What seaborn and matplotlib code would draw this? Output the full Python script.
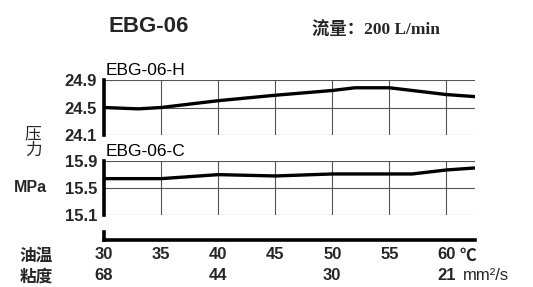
import matplotlib
matplotlib.use("Agg")
import matplotlib.pyplot as plt
import matplotlib.transforms as mtransforms
import seaborn as sns
import pandas as pd

temps_h = [30, 33, 35, 40, 45, 50, 52, 55, 60, 62.5]
press_h = [24.50, 24.48, 24.50, 24.60, 24.68, 24.75, 24.79, 24.79, 24.69, 24.66]
temps_c = [30, 33, 35, 40, 45, 50, 55, 57, 60, 62.5]
press_c = [15.64, 15.64, 15.64, 15.70, 15.68, 15.71, 15.71, 15.71, 15.77, 15.80]
yticks_h = [24.1, 24.5, 24.9]
yticks_c = [15.1, 15.5, 15.9]
xticks = [30, 35, 40, 45, 50, 55, 60]
visc_temps = [30, 40, 50, 60]
visc_labels = ["68", "44", "30", "21"]

sns.set_theme(style="white")
plt.rcParams['font.family'] = ['Liberation Sans', 'Noto Sans CJK SC', 'DejaVu Sans']

fig = plt.figure(figsize=(5.33, 2.87), dpi=100)
L, W = 104/533, 371/533
ax1 = fig.add_axes([L, 1-135/287, W, 55/287])
ax2 = fig.add_axes([L, 1-215/287, W, 54/287])
ax3 = fig.add_axes([L, 1-240/287, W, 8/287])

df_h = pd.DataFrame({"t": temps_h, "p": press_h})
df_c = pd.DataFrame({"t": temps_c, "p": press_c})
gridc = "#555555"
for ax, df, yt, name in [(ax1, df_h, yticks_h, "EBG-06-H"), (ax2, df_c, yticks_c, "EBG-06-C")]:
    sns.lineplot(data=df, x="t", y="p", ax=ax, color="black", linewidth=2.4)
    ax.set_xlim(30, 62.5)
    ax.set_ylim(yt[0] - 0.004, yt[-1] + 0.004)
    ax.set_yticks(yt)
    ax.set_yticklabels([f"{v:.1f}" for v in yt], fontsize=12, fontweight="bold")
    ax.set_xticks(xticks)
    ax.set_xticklabels([])
    ax.grid(True, color=gridc, linewidth=0.8)
    ax.tick_params(axis="both", length=0, pad=5)
    ax.set_xlabel("")
    ax.set_ylabel("")
    for s in ["top", "right", "bottom"]:
        ax.spines[s].set_visible(False)
    ax.spines["left"].set_linewidth(2.6)
    ax.spines["left"].set_color("black")
    ax.set_facecolor("none")
    ax.text(0.005, 1.03, name, transform=ax.transAxes, fontsize=12.5,
            ha="left", va="bottom", color="black")

# temperature axis
ax3.set_xlim(30, 62.5)
ax3.set_ylim(0, 1)
ax3.set_facecolor("none")
for s in ["top", "right"]:
    ax3.spines[s].set_visible(False)
ax3.spines["left"].set_linewidth(2.6)
ax3.spines["bottom"].set_linewidth(2.6)
ax3.spines["left"].set_color("black")
ax3.spines["bottom"].set_color("black")
ax3.set_yticks([])
ax3.set_xticks(xticks + [48.3])
ax3.set_xticklabels([str(v) for v in xticks] + [""], fontsize=12, fontweight="bold")
ax3.tick_params(axis="x", direction="in", length=6, width=0.8, color="black", pad=5)
trans = mtransforms.blended_transform_factory(ax3.transData, fig.transFigure)
for t, lab in zip(visc_temps, visc_labels):
    ax3.text(t, 1-276/287, lab, transform=trans, fontsize=12, fontweight="bold",
             ha="center", va="center")
fig.text(460/533, 1-256/287, "℃", fontsize=12, ha="left", va="center", fontweight="bold",
         family=['Noto Sans CJK SC', 'DejaVu Sans'])
fig.text(463/533, 1-276/287, "mm²/s", fontsize=12, ha="left", va="center")

# left labels
fig.text(33/533, 1-134/287, "压", fontsize=12, ha="center", va="center",
         family=['Noto Sans CJK SC'])
fig.text(33/533, 1-150/287, "力", fontsize=12, ha="center", va="center",
         family=['Noto Sans CJK SC'])
fig.text(30/533, 1-187/287, "MPa", fontsize=11.5, fontweight="bold", ha="center", va="center")
fig.text(36/533, 1-256/287, "油温", fontsize=12, fontweight="bold", ha="center", va="center",
         family=['Noto Sans CJK SC'])
fig.text(36/533, 1-277/287, "粘度", fontsize=12, fontweight="bold", ha="center", va="center",
         family=['Noto Sans CJK SC'])

# titles
fig.text(108/533, 1-27/287, "EBG-06", fontsize=16, fontweight="bold", ha="left", va="center")
fig.text(312/533, 1-30/287, "流量：200 L/min", fontsize=12.5, ha="left", va="center",
         fontweight="bold", family=['Liberation Serif', 'Noto Sans CJK SC'])

fig.savefig("out.png", dpi=100)
